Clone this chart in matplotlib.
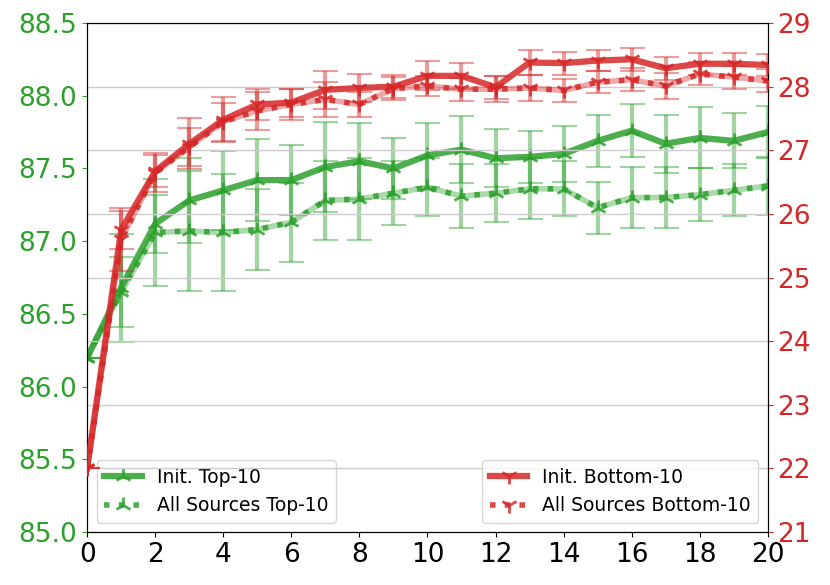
import matplotlib
matplotlib.use("Agg")
import matplotlib.pyplot as plt
import numpy as np

# steps on the x axis
steps = np.arange(0, 21)

# top-10 accuracy (left axis)
init_top = [86.20, 86.68, 87.12, 87.28, 87.35, 87.42, 87.42, 87.51, 87.55, 87.50, 87.59,
            87.63, 87.57, 87.58, 87.60, 87.69, 87.76, 87.67, 87.71, 87.69, 87.75]
init_top_err = [0.0, 0.37, 0.20, 0.29, 0.27, 0.28, 0.24, 0.31, 0.26, 0.21, 0.22,
                0.23, 0.20, 0.18, 0.19, 0.18, 0.18, 0.20, 0.21, 0.19, 0.18]
all_top = [86.20, 86.65, 87.06, 87.07, 87.06, 87.08, 87.13, 87.28, 87.29, 87.33, 87.37,
           87.31, 87.33, 87.36, 87.36, 87.23, 87.30, 87.30, 87.32, 87.35, 87.38]
all_top_err = [0.0, 0.24, 0.37, 0.41, 0.40, 0.28, 0.27, 0.27, 0.28, 0.22, 0.20,
               0.22, 0.20, 0.21, 0.19, 0.18, 0.21, 0.21, 0.18, 0.18, 0.20]

# bottom-10 accuracy (right axis)
init_bot = [22.00, 25.75, 26.67, 27.10, 27.48, 27.72, 27.75, 27.95, 27.98, 28.00, 28.17,
            28.17, 27.99, 28.38, 28.37, 28.41, 28.43, 28.29, 28.36, 28.36, 28.34]
init_bot_err = [0.0, 0.30, 0.25, 0.40, 0.35, 0.25, 0.22, 0.30, 0.22, 0.18, 0.23,
                0.20, 0.18, 0.19, 0.18, 0.17, 0.18, 0.18, 0.17, 0.17, 0.17]
all_bot = [22.00, 25.60, 26.65, 27.05, 27.45, 27.62, 27.72, 27.80, 27.72, 27.97, 28.01,
           27.96, 27.96, 27.98, 27.94, 28.07, 28.11, 28.01, 28.20, 28.15, 28.09]
all_bot_err = [0.0, 0.50, 0.30, 0.30, 0.30, 0.30, 0.25, 0.28, 0.20, 0.18, 0.16,
               0.18, 0.20, 0.20, 0.18, 0.17, 0.18, 0.20, 0.18, 0.18, 0.18]

GREEN = "#2ca02c"
RED = "#d62728"

fig = plt.figure(figsize=(8.3, 5.85), dpi=100)
ax1 = fig.add_axes([0.105, 0.0906, 0.82, 0.87])
ax2 = ax1.twinx()

def draw_eb(ax, y, err, color, marker, style, label):
    if style == ":":
        # light band under the dotted line
        ax.plot(steps, y, color=color, alpha=0.4, lw=4, zorder=2)
    ax.plot(steps, y, color=color, linestyle=style, lw=4.5 if style == "-" else 4,
            marker=marker, markersize=12, markeredgewidth=2, alpha=0.85,
            label=label, zorder=3)
    ax.errorbar(steps, y, yerr=err, fmt="none", ecolor=color, elinewidth=3,
                capsize=9, capthick=1.5, alpha=0.45, zorder=2)

draw_eb(ax1, init_top, init_top_err, GREEN, "2", "-", "Init. Top-10")
draw_eb(ax1, all_top, all_top_err, GREEN, "2", ":", "All Sources Top-10")
draw_eb(ax2, init_bot, init_bot_err, RED, "1", "-", "Init. Bottom-10")
draw_eb(ax2, all_bot, all_bot_err, RED, "1", ":", "All Sources Bottom-10")

ax1.set_xlim(0, 20)
ax1.set_ylim(85.0, 88.5)
ax2.set_ylim(21, 29)
ax1.set_xticks(np.arange(0, 21, 2))
ax1.set_yticks(np.arange(85.0, 88.51, 0.5))
ax1.tick_params(axis="x", labelsize=19)
ax1.tick_params(axis="y", labelsize=19, colors=GREEN)
ax2.tick_params(axis="y", labelsize=19, colors=RED)
ax2.yaxis.grid(True, color="#cccccc", lw=1)
ax2.set_axisbelow(True)
for sp in list(ax1.spines.values()) + list(ax2.spines.values()):
    sp.set_color("black")

ax1.legend(loc="lower left", fontsize=13.5, framealpha=0.8)
ax2.legend(loc="lower right", fontsize=13.5, framealpha=0.8)

fig.savefig("out.png", dpi=100)
